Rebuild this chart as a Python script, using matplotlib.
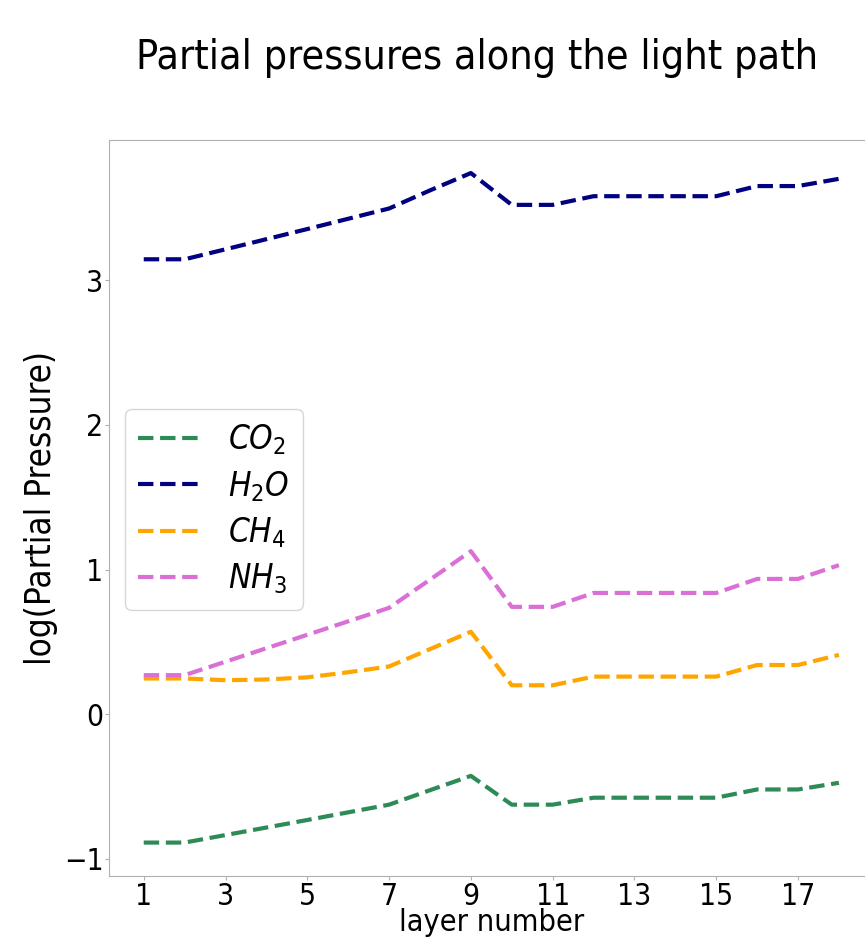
import matplotlib
matplotlib.use("Agg")
import matplotlib.pyplot as plt
import numpy as np

layers = np.arange(1, 19)
co2 = [-0.887, -0.887, -0.835, -0.783, -0.731, -0.678, -0.625, -0.525, -0.426,
       -0.625, -0.625, -0.577, -0.577, -0.577, -0.577, -0.52, -0.52, -0.474]
h2o = [3.144, 3.144, 3.213, 3.283, 3.353, 3.424, 3.495, 3.62, 3.74,
       3.52, 3.52, 3.58, 3.58, 3.58, 3.58, 3.65, 3.65, 3.70]
ch4 = [0.247, 0.247, 0.235, 0.24, 0.255, 0.29, 0.33, 0.45, 0.57,
       0.2, 0.2, 0.26, 0.26, 0.26, 0.26, 0.34, 0.34, 0.41]
nh3 = [0.27, 0.27, 0.363, 0.456, 0.549, 0.642, 0.735, 0.93, 1.127,
       0.742, 0.742, 0.838, 0.838, 0.838, 0.838, 0.935, 0.935, 1.03]

series = [("$CO_2$", co2, "seagreen"), ("$H_2O$", h2o, "navy"),
          ("$CH_4$", ch4, "orange"), ("$NH_3$", nh3, "orchid")]

plt.rcParams['font.family'] = ['DejaVu Sans']
plt.rcParams['font.stretch'] = 'condensed'

fig = plt.figure(figsize=(8.65, 9.43), dpi=100)
ax = fig.add_axes([0.126, 0.071, 0.884, 0.781])

for name, vals, col in series:
    ax.plot(layers, vals, '--', color=col, lw=3, label=name)

ax.set_xticks(np.arange(1, 19, 2))
ax.tick_params(labelsize=21.5, color='#b0b0b0', length=3, pad=1)
for s in ax.spines.values():
    s.set_color('#b0b0b0')
ax.set_xlabel("layer number", fontsize=22)
ax.xaxis.set_label_coords(0.5, -0.043)
ax.set_ylabel("log(Partial Pressure)", fontsize=25, labelpad=4)
fig.text(0.551, 0.938, "Partial pressures along the light path",
         fontsize=29.5, ha='center', va='center')
ax.legend(fontsize=24, loc='upper left', bbox_to_anchor=(0.021, 0.634),
          borderaxespad=0, handlelength=1.9, labelspacing=0.35)

fig.savefig("out.png", dpi=100)
